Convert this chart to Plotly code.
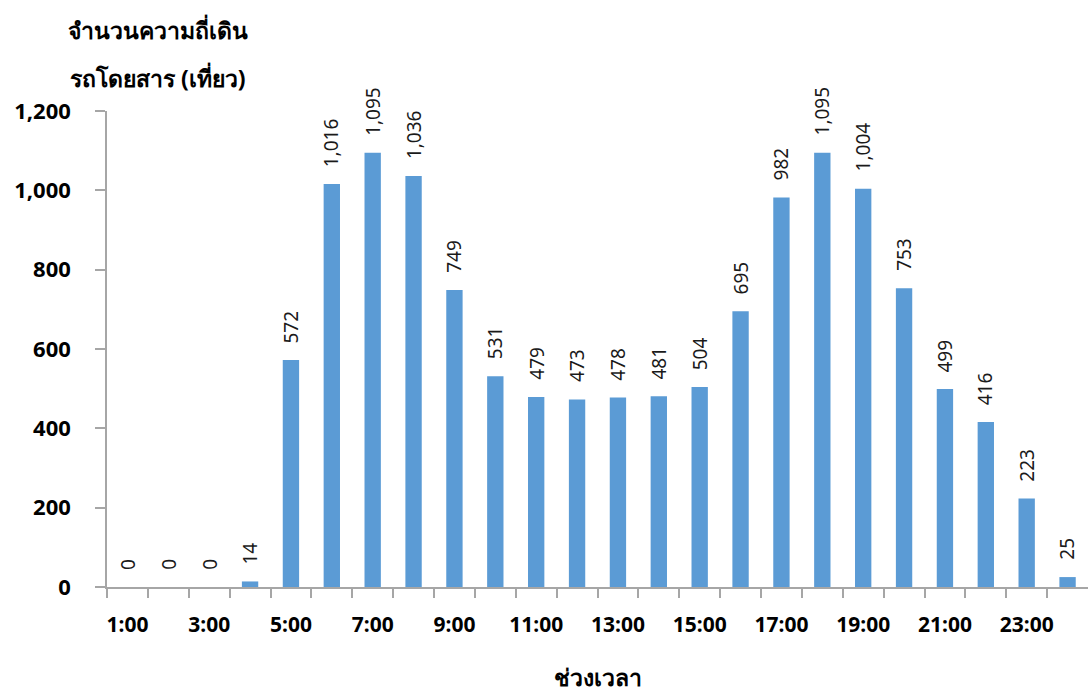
import plotly.graph_objects as go

# Hourly bus trip frequency
hours = ["1:00", "2:00", "3:00", "4:00", "5:00", "6:00", "7:00", "8:00",
         "9:00", "10:00", "11:00", "12:00", "13:00", "14:00", "15:00", "16:00",
         "17:00", "18:00", "19:00", "20:00", "21:00", "22:00", "23:00", "24:00"]
trips = [0, 0, 0, 14, 572, 1016, 1095, 1036, 749, 531, 479, 473,
         478, 481, 504, 695, 982, 1095, 1004, 753, 499, 416, 223, 25]
y_title_lines = ["จำนวนความถี่เดิน", "รถโดยสาร (เที่ยว)"]
x_title = "ช่วงเวลา"

FONT = "Tahoma, 'Noto Sans', 'DejaVu Sans', sans-serif"
BAR_COLOR = "#5B9BD5"
AXIS_COLOR = "#A6A6A6"

xpos = list(range(1, len(hours) + 1))

fig = go.Figure(
    go.Bar(
        x=xpos,
        y=trips,
        marker=dict(color=BAR_COLOR, line=dict(width=0)),
        hoverinfo="skip",
    )
)

# Rotated value labels above each bar
for xv, v in zip(xpos, trips):
    fig.add_annotation(
        x=xv, y=v, xref="x", yref="y",
        text=f"{v:,}", textangle=-90, showarrow=False,
        xanchor="center", yanchor="bottom", yshift=15,
        font=dict(family=FONT, size=19, color="#1a1a1a"),
    )

# Y-axis title, two lines at the top left
for i, line in enumerate(y_title_lines):
    fig.add_annotation(
        x=0.052, y=1.0, xref="paper", yref="paper",
        yanchor="middle", xanchor="center", yshift=81 - 48 * i,
        text=f"<b>{line}</b>", showarrow=False,
        font=dict(family=FONT, size=23, color="#000000"),
    )

odd_idx = [i for i in range(0, len(hours), 2)]

fig.update_layout(
    width=1088, height=693,
    margin=dict(l=107, r=0, t=111, b=106),
    paper_bgcolor="white", plot_bgcolor="white",
    bargap=0.6,
    showlegend=False,
    xaxis=dict(
        range=[0.5, len(hours) + 0.5],
        tickmode="array",
        tickvals=[xpos[i] for i in odd_idx],
        ticktext=[f"<b>{hours[i]}</b>" for i in odd_idx],
        ticks="",
        tickfont=dict(family=FONT, size=21, color="#000000"),
        ticklabelstandoff=18,
        showline=True, linecolor=AXIS_COLOR, linewidth=1.5,
        showgrid=False, zeroline=False,
        minor=dict(
            tickmode="array",
            tickvals=[x - 0.5 for x in xpos],
            ticks="outside", ticklen=9, tickcolor=AXIS_COLOR, tickwidth=1.5,
            showgrid=False,
        ),
        title=dict(
            text=f"<b>{x_title}</b>",
            font=dict(family=FONT, size=23, color="#000000"),
            standoff=34,
        ),
    ),
    yaxis=dict(
        range=[0, 1200],
        tickmode="linear", tick0=0, dtick=200,
        tickformat=",",
        tickprefix="<b>", ticksuffix="</b>",
        ticks="outside", ticklen=10, tickcolor=AXIS_COLOR, tickwidth=1.5,
        tickfont=dict(family=FONT, size=22, color="#000000"),
        ticklabelstandoff=20,
        showline=True, linecolor=AXIS_COLOR, linewidth=1.5,
        showgrid=False, zeroline=False,
    ),
)

fig.write_html("out.html")
